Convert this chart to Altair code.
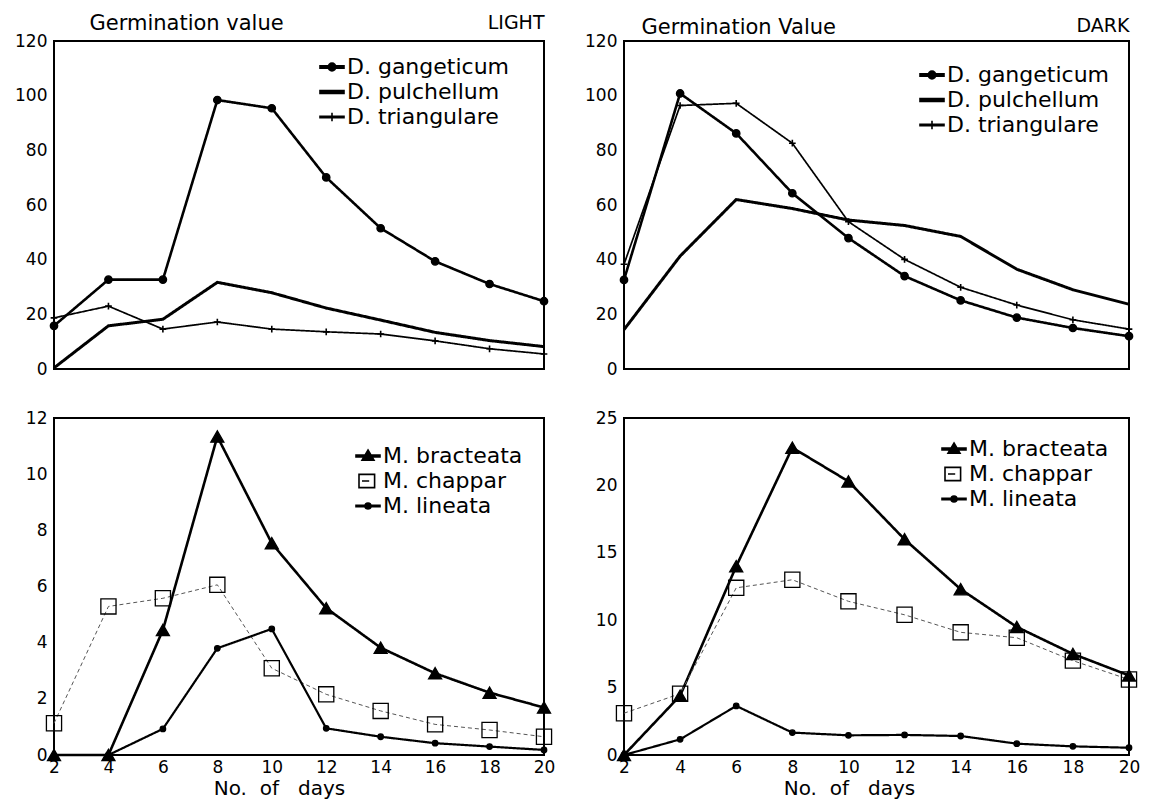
import altair as alt
import pandas as pd

FONT = "DejaVu Sans"

# ---------------- data ----------------
days = [2, 4, 6, 8, 10, 12, 14, 16, 18, 20]

# LIGHT, Desmodium
light_gangeticum = [15.8, 32.7, 32.7, 98.4, 95.4, 70.1, 51.5, 39.4, 31.1, 24.8]
light_pulchellum = [0.4, 15.8, 18.2, 31.7, 27.9, 22.3, 17.9, 13.4, 10.4, 8.2]
light_triangulare = [18.7, 23.0, 14.6, 17.2, 14.6, 13.6, 12.8, 10.3, 7.4, 5.5]

# DARK, Desmodium
dark_gangeticum = [32.6, 100.8, 86.2, 64.3, 47.9, 34.0, 25.1, 18.8, 15.0, 12.0]
dark_pulchellum = [14.4, 41.3, 62.0, 58.7, 54.5, 52.5, 48.5, 36.5, 29.0, 23.7]
dark_triangulare = [38.3, 96.4, 97.2, 82.6, 53.9, 40.1, 29.9, 23.4, 18.0, 14.6]

# LIGHT, Mimosa
light_bracteata = [0, 0, 4.45, 11.34, 7.54, 5.23, 3.82, 2.91, 2.22, 1.69]
light_chappar = [1.13, 5.29, 5.58, 6.06, 3.09, 2.16, 1.57, 1.09, 0.89, 0.65]
light_lineata = [None, 0, 0.93, 3.8, 4.49, 0.95, 0.65, 0.42, 0.30, 0.18]

# DARK, Mimosa
dark_bracteata = [0, 4.4, 14.0, 22.8, 20.3, 16.0, 12.3, 9.5, 7.5, 5.9]
dark_chappar = [3.1, 4.55, 12.4, 13.0, 11.4, 10.4, 9.1, 8.7, 7.0, 5.6]
dark_lineata = [0, 1.16, 3.64, 1.66, 1.46, 1.49, 1.41, 0.84, 0.64, 0.54]

d_names = ["D. gangeticum", "D. pulchellum", "D. triangulare"]
m_names = ["M. bracteata", "M. chappar", "M. lineata"]

# ---------------- styles ----------------
PLUS = "M-1,0H1M0,-1V1"
STYLE = {
    "D. gangeticum": dict(width=2.6, dash=[1, 0], color="black", shape="circle", size=55, fill="black",
                          lpath="M-1,-0.09H1V0.09H-1Z M-0.32,0A0.32,0.32,0,1,1,0.32,0A0.32,0.32,0,1,1,-0.32,0Z",
                          lfill="black"),
    "D. pulchellum": dict(width=3.0, dash=[1, 0], color="black", shape=None, size=0, fill="black",
                          lpath="M-1,-0.12H1V0.12H-1Z", lfill="black"),
    "D. triangulare": dict(width=1.7, dash=[1, 0], color="black", shape=PLUS, size=45, fill="black",
                           lpath="M-1,-0.05H1V0.05H-1Z M0,-0.35V0.35", lfill="black"),
    "M. bracteata": dict(width=2.6, dash=[1, 0], color="black", shape="triangle-up", size=170, fill="black",
                         lpath="M-1,-0.08H1V0.08H-1Z M0,-0.5L0.5,0.35L-0.5,0.35Z", lfill="black"),
    "M. chappar": dict(width=1.0, dash=[4, 3], color="#555555", shape="square", size=230, fill="transparent",
                       lpath="M-0.75,-0.55H0.55V0.55H-0.75Z M-0.5,0H0.1", lfill="transparent"),
    "M. lineata": dict(width=2.2, dash=[1, 0], color="black", shape="circle", size=30, fill="black",
                       lpath="M-1,-0.06H1V0.06H-1Z M-0.25,0A0.25,0.25,0,1,1,0.25,0A0.25,0.25,0,1,1,-0.25,0Z",
                       lfill="black"),
}


def make_df(names, series):
    rows = []
    for name, vals in zip(names, series):
        for d, v in zip(days, vals):
            if v is not None:
                rows.append({"day": d, "value": v, "series": name})
    return pd.DataFrame(rows)


def panel(names, series, ymax, ystep, w, h, top, ytitle, ytitle_x, ytitle_y,
          corner, corner_x, corner_y, legend_x, legend_y):
    df = make_df(names, series)

    if top:
        xaxis = alt.Axis(orient="top", labels=False, ticks=False, domain=False, grid=False,
                         title=corner, titleX=corner_x, titleY=corner_y, titleAlign="right",
                         titleBaseline="alphabetic", titleFont=FONT, titleFontSize=19,
                         titleFontWeight="normal", titleColor="black")
    else:
        xaxis = alt.Axis(values=days, labelFont=FONT, labelFontSize=17, labelColor="black",
                         ticks=False, domain=False, grid=False, labelPadding=4, labelFlush=False,
                         title="No.\u00a0\u00a0of\u00a0\u00a0\u00a0days", titleFont=FONT,
                         titleFontSize=20, titleFontWeight="normal", titleColor="black",
                         titlePadding=3, titleX=225, titleAlign="center")

    yvals = list(range(0, ymax + 1, ystep))
    ykw = dict(values=yvals, labelFont=FONT, labelFontSize=17, labelColor="black", ticks=False,
               domain=False, grid=False, labelPadding=7, labelFlush=False, minExtent=45, maxExtent=45)
    if ytitle:
        yaxis = alt.Axis(title=ytitle, titleAngle=0, titleX=ytitle_x, titleY=ytitle_y,
                         titleAlign="left", titleBaseline="alphabetic", titleFont=FONT,
                         titleFontSize=21, titleFontWeight="normal", titleColor="black", **ykw)
    else:
        yaxis = alt.Axis(title=None, **ykw)

    x = alt.X("day:Q", scale=alt.Scale(domain=[2, 20], nice=False, zero=False), axis=xaxis)
    y = alt.Y("value:Q", scale=alt.Scale(domain=[0, ymax], nice=False), axis=yaxis)

    layers = []
    # lines
    for n in names:
        s = STYLE[n]
        layers.append(
            alt.Chart(df).transform_filter(alt.datum.series == n)
            .mark_line(color=s["color"], strokeWidth=s["width"], strokeDash=s["dash"])
            .encode(x=x, y=y)
        )
    # markers
    for n in names:
        s = STYLE[n]
        if s["shape"] is None:
            continue
        if s["shape"] == PLUS:
            mk = alt.Chart(df).transform_filter(alt.datum.series == n).mark_point(
                shape=PLUS, size=s["size"], filled=False, stroke="black", strokeWidth=1.6, opacity=1)
        else:
            mk = alt.Chart(df).transform_filter(alt.datum.series == n).mark_point(
                shape=s["shape"], size=s["size"], filled=True, fill=s["fill"], stroke="black",
                strokeWidth=1.3, opacity=1, fillOpacity=1)
        layers.append(mk.encode(x=x, y=y))
    # legend carrier
    legend = alt.Legend(orient="none", legendX=legend_x, legendY=legend_y, title=None,
                        labelFont=FONT, labelFontSize=22, labelColor="black", labelOffset=2,
                        symbolSize=576, symbolStrokeWidth=1.6, symbolStrokeColor="black",
                        symbolOpacity=1, rowPadding=1, labelLimit=300)
    leg = alt.Chart(df).mark_point(opacity=0, filled=True, strokeWidth=1.6).encode(
        x=x, y=y,
        shape=alt.Shape("series:N", scale=alt.Scale(domain=names, range=[STYLE[n]["lpath"] for n in names]),
                        legend=legend),
        fill=alt.Fill("series:N", scale=alt.Scale(domain=names, range=[STYLE[n]["lfill"] for n in names]),
                      legend=legend),
        stroke=alt.Stroke("series:N", scale=alt.Scale(domain=names, range=["black"] * len(names)),
                          legend=legend),
    )
    layers.append(leg)
    return alt.layer(*layers).properties(width=w, height=h)


tl = panel(d_names, [light_gangeticum, light_pulchellum, light_triangulare], 120, 20, 490, 328, True,
           "Germination value", 35, -12, "LIGHT", 490, -13, 265, 13)
tr = panel(d_names, [dark_gangeticum, dark_pulchellum, dark_triangulare], 120, 20, 505, 328, True,
           "Germination Value", 17, -8, "DARK", 505, -10, 295, 21)
bl = panel(m_names, [light_bracteata, light_chappar, light_lineata], 12, 2, 490, 337, False,
           None, 0, 0, None, 0, 0, 301, 25)
br = panel(m_names, [dark_bracteata, dark_chappar, dark_lineata], 25, 5, 505, 337, False,
           None, 0, 0, None, 0, 0, 317, 18)

RES = dict(shape="independent", fill="independent", stroke="independent", x="independent", y="independent")
LRES = dict(shape="independent", fill="independent", stroke="independent")

chart = (
    alt.ConcatChart(concat=[tl, tr, bl, br], columns=2,
                    spacing=alt.RowColnumber(row=49, column=80), bounds="flush")
    .resolve_scale(**RES)
    .resolve_legend(**LRES)
    .properties(padding={"top": 3, "left": 0, "right": 0, "bottom": 4}, background="white")
    .configure_view(stroke="black", strokeWidth=2, fill="white")
)

chart.save("out.html", embed_options={"renderer": "svg", "actions": False})
